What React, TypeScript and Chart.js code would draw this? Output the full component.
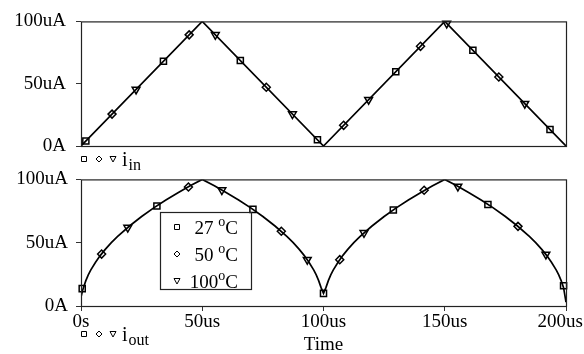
import React, { useEffect, useRef } from 'react';
import { Chart, registerables } from 'chart.js';

Chart.register(...registerables);

const FONT = '"Liberation Serif", "Times New Roman", serif';

// ---- axis ticks ----
const xTickValues = [0, 50, 100, 150, 200];
const xTickLabels = ['0s', '50us', '100us', '150us', '200us'];
const yTickValues = [0, 50, 100];
const yTickLabels = ['0A', '50uA', '100uA'];
const xTitle = 'Time';

// ---- legend ----
const legendTemps = ['27 ', '50 ', '100'];
const legendKinds = ['square', 'diamond', 'triangle'];

// ---- top panel: i_in (uA) vs time (us) ----
const inTime = [0, 50, 100, 150, 200];
const inValue = [0, 100, 0, 100, 0];
const inSquareT = [2, 34, 65.7, 97.5, 129.8, 161.6, 193.4];
const inSquareV = [4, 68, 68.6, 5, 59.6, 76.8, 13.2];
const inDiamondT = [12.8, 44.6, 76.4, 108.3, 140, 172.3];
const inDiamondV = [25.6, 89.2, 47.2, 16.6, 80, 55.4];
const inTriangleT = [22.7, 55.4, 87.2, 118.6, 150.8, 183];
const inTriangleV = [45.4, 89.2, 25.6, 37.2, 98.4, 34];

// ---- bottom panel: i_out (uA) vs time (us) ----
const outTime = [
  0, 0.5, 1, 2, 3, 4, 6, 8, 10, 12.5, 15, 20, 25, 30, 35, 40, 45, 50,
  55, 60, 65, 70, 75, 80, 85, 87.5, 90, 92, 94, 96, 97, 98, 99, 100,
  101, 102, 103, 104, 106, 108, 110, 112.5, 115, 120, 125, 130, 135, 140, 145, 150,
  155, 160, 165, 170, 175, 180, 185, 187.5, 190, 192, 194, 196, 197, 198, 199, 200,
];
const outValue = [
  7, 11, 14.5, 20, 24.5, 28.3, 34.6, 40, 44.7, 50, 54.8, 63.2, 70.7, 77.5, 83.7, 89.4, 94.9, 100,
  94.9, 89.4, 83.7, 77.5, 70.7, 63.2, 54.8, 50, 44.7, 40, 34.6, 28.3, 24.5, 20, 14.5, 10,
  14.5, 20, 24.5, 28.3, 34.6, 40, 44.7, 50, 54.8, 63.2, 70.7, 77.5, 83.7, 89.4, 94.9, 100,
  94.9, 89.4, 83.7, 77.5, 70.7, 63.2, 54.8, 50, 44.7, 40, 34.6, 28.3, 24.5, 20, 14.5, 3,
];
const outSquareT = [0.5, 31.3, 70.9, 100, 128.8, 167.8, 199];
const outSquareV = [13.7, 79, 76.3, 10, 75.8, 80.2, 16];
const outDiamondT = [8.5, 44.3, 82.6, 106.7, 141.5, 180.2];
const outDiamondV = [41, 94, 59, 36.6, 91.4, 62.9];
const outTriangleT = [19.3, 58.1, 93.3, 116.7, 155.4, 191.7];
const outTriangleV = [62, 91.6, 36.6, 57.8, 94.4, 40.7];

const pts = (t: number[], v: number[]) => t.map((x, i) => ({ x, y: v[i] }));

function drawMarker(ctx: CanvasRenderingContext2D, kind: string, x: number, y: number, s: number) {
  ctx.save();
  ctx.strokeStyle = '#000';
  ctx.lineWidth = 1;
  ctx.beginPath();
  if (kind === 'square') {
    ctx.rect(x - s, y - s, 2 * s, 2 * s);
  } else if (kind === 'diamond') {
    ctx.moveTo(x, y - s - 0.5);
    ctx.lineTo(x + s + 0.5, y);
    ctx.lineTo(x, y + s + 0.5);
    ctx.lineTo(x - s - 0.5, y);
    ctx.closePath();
  } else {
    ctx.moveTo(x - s - 0.5, y - s);
    ctx.lineTo(x + s + 0.5, y - s);
    ctx.lineTo(x, y + s + 0.5);
    ctx.closePath();
  }
  ctx.stroke();
  ctx.restore();
}

function drawSeriesLabel(ctx: CanvasRenderingContext2D, y: number, main: string, sub: string) {
  drawMarker(ctx, 'square', 84, y, 2.5);
  drawMarker(ctx, 'diamond', 99, y, 2.5);
  drawMarker(ctx, 'triangle', 113, y, 2.5);
  ctx.save();
  ctx.fillStyle = '#000';
  ctx.textAlign = 'left';
  ctx.textBaseline = 'alphabetic';
  ctx.font = `20px ${FONT}`;
  ctx.fillText(main, 122, y + 7);
  const w = ctx.measureText(main).width;
  ctx.font = `16px ${FONT}`;
  ctx.fillText(sub, 122 + w + 1, y + 11);
  ctx.restore();
}

const framePlugin = {
  id: 'frame',
  afterDraw(chart: any) {
    const { ctx, chartArea: a } = chart;
    ctx.save();
    ctx.strokeStyle = '#222';
    ctx.lineWidth = 1.2;
    ctx.strokeRect(a.left + 0.5, a.top + 0.5, a.right - a.left, a.bottom - a.top);
    ctx.restore();
  },
};

function markerDatasets(sq: any[], di: any[], tr: any[]) {
  const common = {
    showLine: false,
    pointRadius: 4.3,
    pointBorderColor: '#000',
    pointBackgroundColor: 'rgba(0,0,0,0)',
    pointBorderWidth: 1.5,
    clip: false as any,
  };
  return [
    { ...common, data: sq, pointStyle: 'rect' },
    { ...common, data: di, pointStyle: 'rectRot', pointRadius: 4 },
    { ...common, data: tr, pointStyle: 'triangle', pointRotation: 180, pointRadius: 4.5 },
  ];
}

function yScale(pad: number) {
  return {
    type: 'linear',
    min: 0,
    max: 100,
    afterFit: (s: any) => {
      s.width = 81;
    },
    afterBuildTicks: (s: any) => {
      s.ticks = yTickValues.map((v) => ({ value: v }));
    },
    ticks: {
      color: '#000',
      font: { family: FONT, size: 19 },
      padding: pad,
      callback: (v: any) => yTickLabels[yTickValues.indexOf(Number(v))] ?? '',
    },
    grid: { drawOnChartArea: false, drawTicks: true, tickLength: 5, color: '#333', lineWidth: 1 },
    border: { display: false },
  };
}

export default function App() {
  const topRef = useRef<HTMLCanvasElement>(null);
  const botRef = useRef<HTMLCanvasElement>(null);

  useEffect(() => {
    document.body.style.margin = '0';
    const top = new Chart(topRef.current!, {
      type: 'line',
      data: {
        datasets: [
          {
            data: pts(inTime, inValue),
            borderColor: '#000',
            borderWidth: 1.7,
            pointRadius: 0,
            tension: 0,
          } as any,
          ...markerDatasets(pts(inSquareT, inSquareV), pts(inDiamondT, inDiamondV), pts(inTriangleT, inTriangleV)),
        ],
      },
      options: {
        responsive: false,
        animation: false,
        layout: { autoPadding: false, padding: { left: 0, right: 18, top: 12, bottom: 34 } } as any,
        plugins: { legend: { display: false }, tooltip: { enabled: false } },
        scales: {
          x: { type: 'linear', min: 0, max: 200, display: false },
          y: yScale(10) as any,
        },
      },
      plugins: [
        framePlugin,
        {
          id: 'inLabel',
          afterDraw(chart: any) {
            drawSeriesLabel(chart.ctx, 159, 'i', 'in');
          },
        },
      ],
    });

    const bot = new Chart(botRef.current!, {
      type: 'line',
      data: {
        datasets: [
          {
            data: pts(outTime, outValue),
            borderColor: '#000',
            borderWidth: 1.7,
            pointRadius: 0,
            tension: 0,
          } as any,
          ...markerDatasets(pts(outSquareT, outSquareV), pts(outDiamondT, outDiamondV), pts(outTriangleT, outTriangleV)),
        ],
      },
      options: {
        responsive: false,
        animation: false,
        layout: { autoPadding: false, padding: { left: 0, right: 18, top: 12, bottom: 0 } } as any,
        plugins: { legend: { display: false }, tooltip: { enabled: false } },
        scales: {
          x: {
            type: 'linear',
            min: 0,
            max: 200,
            afterFit: (s: any) => {
              s.height = 48;
            },
            afterBuildTicks: (s: any) => {
              s.ticks = xTickValues.map((v) => ({ value: v }));
            },
            ticks: { display: false },
            grid: { drawOnChartArea: false, drawTicks: true, tickLength: 5, color: '#333', lineWidth: 1 },
            border: { display: false },
          } as any,
          y: yScale(8) as any,
        },
      },
      plugins: [
        framePlugin,
        {
          id: 'decor',
          afterDraw(chart: any) {
            const ctx = chart.ctx as CanvasRenderingContext2D;
            const xs = chart.scales.x;
            const W = chart.width;
            const off = 160;
            ctx.save();
            ctx.fillStyle = '#000';
            ctx.font = `19px ${FONT}`;
            ctx.textBaseline = 'alphabetic';
            ctx.textAlign = 'center';
            xTickValues.forEach((v, i) => {
              const w = ctx.measureText(xTickLabels[i]).width;
              let px = xs.getPixelForValue(v);
              if (px + w / 2 > W - 1) px = W - 1 - w / 2;
              ctx.fillText(xTickLabels[i], px, 327 - off);
            });
            ctx.fillText(xTitle, xs.getPixelForValue(100), 350 - off);

            // legend box
            ctx.strokeStyle = '#222';
            ctx.lineWidth = 1.2;
            ctx.strokeRect(160.5, 212.5 - off, 91, 77);
            const rows = [227, 254, 281];
            legendTemps.forEach((t, i) => {
              const y = rows[i] - off;
              drawMarker(ctx, legendKinds[i], 177, y, 2.5);
              ctx.textAlign = 'right';
              ctx.font = `19px ${FONT}`;
              const rx = 238;
              ctx.fillText('C', rx, y + 7);
              const wc = ctx.measureText('C').width;
              ctx.font = `14px ${FONT}`;
              ctx.fillText('o', rx - wc, y - 1);
              const wo = ctx.measureText('o').width;
              ctx.font = `19px ${FONT}`;
              ctx.fillText(t, rx - wc - wo, y + 7);
            });
            ctx.restore();

            drawSeriesLabel(ctx, 334 - off, 'i', 'out');
          },
        },
      ],
    });

    return () => {
      top.destroy();
      bot.destroy();
    };
  }, []);

  return (
    <div style={{ position: 'fixed', left: 0, top: 0, width: 584, height: 354, background: '#fff' }}>
      <canvas ref={topRef} width={584} height={180} style={{ position: 'absolute', left: 0, top: 0 }} />
      <canvas ref={botRef} width={584} height={194} style={{ position: 'absolute', left: 0, top: 160 }} />
    </div>
  );
}
